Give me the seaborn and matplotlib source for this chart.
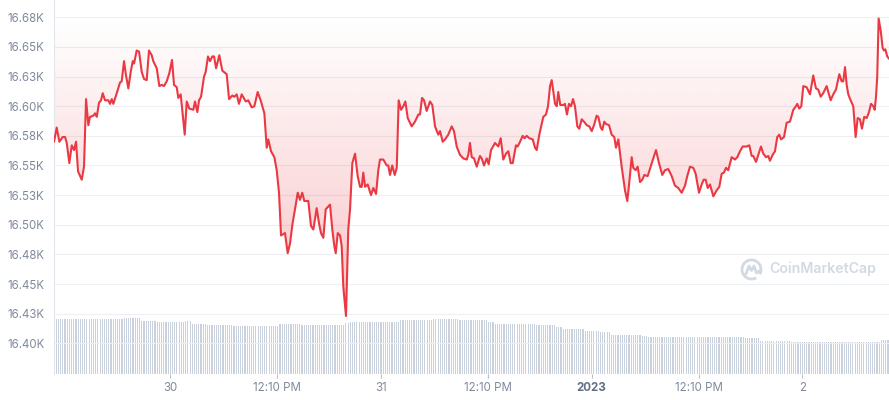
import numpy as np
import matplotlib.pyplot as plt
import matplotlib.colors as mcolors
from matplotlib.patches import Arc
import seaborn as sns

sns.set_theme(style="white")
plt.rcParams['font.family'] = ['Inter', 'DejaVu Sans']

# hours from 30 Dec 00:00
hours = [
    -13.25, -12.94, -12.64, -12.26, -11.99, -11.80, -11.50, -11.23, -10.97, -10.74,
    -10.51, -10.09, -9.83, -9.60, -9.34, -9.15, -8.77, -8.58, -8.38, -8.12,
    -7.89, -7.70, -7.44, -7.06, -6.87, -6.67, -6.49, -6.10, -5.73, -5.54,
    -5.27, -5.05, -4.78, -4.51, -4.28, -4.13, -3.83, -3.56, -3.26, -3.00,
    -2.69, -2.43, -2.12, -1.94, -1.55, -1.25, -0.98, -0.72, -0.41, -0.11,
    0.19, 0.42, 0.73, 0.91, 1.18, 1.41, 1.64, 1.87, 2.16, 2.62,
    2.81, 3.08, 3.27, 3.50, 3.84, 4.03, 4.29, 4.52, 4.78, 4.98,
    5.21, 5.58, 5.92, 6.42, 6.69, 7.06, 7.29, 7.56, 7.82, 8.13,
    8.59, 8.88, 9.27, 9.57, 9.95, 10.33, 10.71, 10.98, 11.16, 11.47,
    11.85, 12.12, 12.38, 12.61, 13.06, 13.37, 13.63, 13.90, 14.20, 14.51,
    14.77, 15.03, 15.26, 15.72, 16.02, 16.29, 16.67, 16.94, 17.16, 17.43,
    17.70, 18.19, 18.45, 18.68, 18.84, 19.07, 19.33, 19.52, 19.70, 20.01,
    20.27, 20.47, 20.73, 21.04, 21.34, 21.61, 21.80, 21.98, 22.18, 22.48,
    22.86, 23.12, 23.43, 23.69, 23.88, 24.26, 24.65, 24.83, 25.02, 25.28,
    25.56, 25.79, 26.01, 26.28, 26.54, 26.77, 27.04, 27.49, 27.87, 28.25,
    28.44, 28.67, 28.90, 29.20, 29.58, 29.84, 30.15, 30.52, 30.72, 31.03,
    31.29, 31.66, 32.05, 32.31, 32.62, 32.99, 33.37, 33.76, 33.94, 34.13,
    34.33, 34.59, 34.90, 35.27, 35.47, 35.73, 36.04, 36.26, 36.53, 36.98,
    37.36, 37.63, 37.93, 38.23, 38.50, 38.77, 39.00, 39.37, 39.57, 39.83,
    40.14, 40.36, 40.59, 40.89, 41.28, 41.54, 41.73, 42.03, 42.48, 42.79,
    43.02, 43.25, 43.44, 43.82, 44.01, 44.19, 44.42, 44.76, 44.95, 45.18,
    45.41, 45.64, 45.87, 46.09, 46.36, 46.58, 46.86, 47.23, 47.43, 47.72,
    48.00, 48.26, 48.56, 48.75, 49.02, 49.20, 49.43, 49.62, 49.97, 50.27,
    50.57, 50.76, 51.03, 51.41, 51.79, 52.05, 52.28, 52.55, 52.73, 53.01,
    53.23, 53.50, 53.76, 53.99, 54.37, 54.75, 55.01, 55.32, 55.66, 56.04,
    56.34, 56.72, 57.11, 57.48, 57.86, 58.25, 58.62, 58.88, 59.19, 59.57,
    59.84, 60.22, 60.52, 60.75, 60.98, 61.21, 61.47, 61.85, 62.23, 62.53,
    62.80, 63.06, 63.29, 63.55, 63.94, 64.32, 64.58, 64.89, 65.19, 65.65,
    65.95, 66.22, 66.40, 66.71, 66.97, 67.28, 67.54, 67.85, 68.11, 68.30,
    68.61, 68.87, 69.13, 69.36, 69.56, 69.90, 70.20, 70.58, 70.96, 71.26,
    71.41, 71.64, 71.87, 72.10, 72.48, 72.86, 73.23, 73.54, 73.80, 74.08,
    74.37, 74.76, 74.94, 75.22, 75.51, 75.82, 76.20, 76.47, 76.65, 76.85,
    77.04, 77.22, 77.49, 77.79, 78.06, 78.29, 78.55, 78.78, 79.04, 79.32,
    79.58, 79.81, 80.07, 80.23, 80.38, 80.52, 80.68, 80.91, 81.14, 81.29,
    81.44, 81.66, 81.86,
]

# BTC price in USD
price = [
    16570, 16582, 16570, 16574, 16574, 16569, 16552, 16567, 16563, 16570,
    16545, 16538, 16549, 16606, 16584, 16591, 16592, 16594, 16591, 16603,
    16605, 16611, 16605, 16605, 16602, 16606, 16602, 16611, 16620, 16621,
    16638, 16626, 16615, 16629, 16638, 16636, 16647, 16646, 16629, 16623,
    16622, 16647, 16643, 16638, 16632, 16617, 16618, 16617, 16621, 16628,
    16639, 16618, 16616, 16607, 16610, 16593, 16576, 16604, 16598, 16597,
    16604, 16595, 16605, 16608, 16625, 16629, 16642, 16638, 16642, 16642,
    16632, 16643, 16630, 16627, 16606, 16609, 16608, 16610, 16602, 16610,
    16604, 16605, 16599, 16600, 16612, 16604, 16594, 16565, 16572, 16562,
    16557, 16546, 16527, 16491, 16493, 16476, 16484, 16500, 16513, 16527,
    16521, 16527, 16520, 16520, 16499, 16496, 16514, 16501, 16493, 16489,
    16513, 16517, 16496, 16482, 16476, 16493, 16491, 16482, 16448, 16423,
    16496, 16513, 16552, 16560, 16541, 16532, 16532, 16544, 16532, 16534,
    16525, 16531, 16526, 16546, 16555, 16555, 16550, 16550, 16542, 16550,
    16542, 16548, 16605, 16597, 16600, 16604, 16590, 16583, 16587, 16593,
    16593, 16607, 16605, 16596, 16604, 16601, 16583, 16576, 16579, 16570,
    16572, 16576, 16583, 16579, 16566, 16559, 16556, 16555, 16559, 16569,
    16557, 16556, 16549, 16558, 16556, 16550, 16556, 16551, 16563, 16569,
    16566, 16573, 16555, 16560, 16562, 16552, 16552, 16567, 16566, 16570,
    16575, 16573, 16575, 16573, 16572, 16565, 16563, 16576, 16591, 16593,
    16600, 16617, 16622, 16602, 16600, 16612, 16601, 16601, 16602, 16593,
    16602, 16600, 16606, 16600, 16583, 16581, 16589, 16586, 16584, 16583,
    16579, 16584, 16592, 16591, 16582, 16580, 16587, 16585, 16584, 16576,
    16574, 16565, 16572, 16549, 16529, 16520, 16536, 16557, 16548, 16546,
    16549, 16536, 16538, 16542, 16541, 16550, 16556, 16563, 16552, 16542,
    16546, 16547, 16541, 16533, 16531, 16527, 16533, 16541, 16549, 16548,
    16543, 16527, 16534, 16538, 16538, 16531, 16534, 16524, 16529, 16532,
    16543, 16544, 16548, 16546, 16557, 16555, 16557, 16562, 16566, 16566,
    16567, 16558, 16558, 16553, 16559, 16566, 16560, 16557, 16558, 16554,
    16559, 16562, 16574, 16576, 16572, 16574, 16586, 16587, 16597, 16600,
    16602, 16598, 16600, 16617, 16616, 16610, 16626, 16615, 16614, 16608,
    16611, 16617, 16612, 16605, 16610, 16614, 16627, 16621, 16621, 16633,
    16618, 16610, 16605, 16600, 16574, 16590, 16589, 16581, 16591, 16590,
    16595, 16602, 16600, 16597, 16608, 16625, 16674, 16664, 16649, 16647,
    16648, 16642, 16640,
]

# 24h volume (billion USD), one bar every 15 minutes
volume = [
    17.5, 17.5, 17.5, 17.5, 17.5, 17.5, 17.5, 17.5, 17.5, 17.5, 17.5, 17.5, 17.5, 17.5, 17.5,
    17.7, 17.7, 17.7, 17.7, 17.7, 17.7, 17.7, 17.7, 17.7, 17.7, 17.7, 17.7, 17.7, 17.7, 17.7, 17.7, 17.7,
    18.0, 18.0, 18.0, 18.0, 18.0, 18.0, 18.0, 18.0,
    17.1, 17.1, 17.1, 17.1, 17.1, 17.1, 17.1,
    16.6, 16.6, 16.6, 16.6, 16.6, 16.6, 16.6, 16.6, 16.6, 16.6, 16.6, 16.6, 16.6,
    17.0, 17.0, 17.0,
    16.1, 16.1, 16.1, 16.1, 16.1, 16.1, 16.1,
    15.7, 15.7, 15.7, 15.7, 15.7, 15.7, 15.7, 15.7, 15.7, 15.7, 15.7, 15.7,
    15.5, 15.5, 15.5, 15.5, 15.5, 15.5, 15.5, 15.5, 15.5, 15.5, 15.5, 15.5,
    15.3, 15.3, 15.3, 15.3, 15.3, 15.3, 15.3, 15.3, 15.3,
    16.0, 16.0, 16.0, 16.0, 16.0, 16.0, 16.0, 16.0, 16.0, 16.0,
    15.7, 15.7, 15.7, 15.7, 15.7, 15.7, 15.7, 15.7, 15.7, 15.7,
    15.7, 15.7, 15.7, 15.7, 15.7, 15.7, 15.7, 15.7, 15.7, 15.7,
    16.2, 16.2,
    16.5, 16.5, 16.5, 16.5, 16.5, 16.5, 16.5, 16.5, 16.5, 16.5, 16.5, 16.5,
    16.5, 16.5, 16.5, 16.5, 16.5, 16.5, 16.5, 16.5, 16.5, 16.5, 16.5,
    17.3, 17.3, 17.3, 17.3, 17.3, 17.3, 17.3, 17.3, 17.3, 17.3, 17.3, 17.3, 17.3, 17.3, 17.3,
    17.6, 17.6, 17.6, 17.6, 17.6, 17.6, 17.6, 17.6, 17.6, 17.6, 17.6, 17.6,
    17.3, 17.3, 17.3, 17.3, 17.3, 17.3, 17.3, 17.3, 17.3, 17.3, 17.3, 17.3, 17.3,
    16.7, 16.7, 16.7,
    15.9, 15.9, 15.9, 15.9, 15.9, 15.9, 15.9, 15.9, 15.9, 15.9,
    15.9, 15.9, 15.9, 15.9, 15.9, 15.9, 15.9, 15.9, 15.9,
    15.7, 15.7, 15.7, 15.7, 15.7, 15.7, 15.7, 15.7, 15.7,
    15.1, 15.1, 15.1,
    14.3, 14.3, 14.3, 14.3, 14.3, 14.3, 14.3, 14.3, 14.3, 14.3,
    13.8, 13.8, 13.8, 13.8, 13.8, 13.8, 13.8,
    13.3, 13.3, 13.3, 13.3, 13.3,
    12.5, 12.5, 12.5, 12.5, 12.5, 12.5, 12.5, 12.5, 12.5, 12.5, 12.5, 12.5, 12.5, 12.5,
    12.2, 12.2, 12.2,
    11.8, 11.8, 11.8, 11.8, 11.8, 11.8, 11.8, 11.8, 11.8, 11.8, 11.8,
    11.8, 11.8, 11.8, 11.8, 11.8, 11.8, 11.8, 11.8, 11.8, 11.8, 11.8,
    11.8, 11.8, 11.8, 11.8, 11.8, 11.8, 11.8, 11.8, 11.8, 11.8, 11.8,
    11.8, 11.8, 11.8, 11.8, 11.8, 11.8, 11.8, 11.8, 11.8, 11.8, 11.8,
    11.4, 11.4, 11.4, 11.4, 11.4, 11.4, 11.4,
    10.7, 10.7, 10.7, 10.7, 10.7, 10.7, 10.7, 10.7, 10.7, 10.7, 10.7, 10.7, 10.7, 10.7,
    10.2, 10.2, 10.2, 10.2, 10.2, 10.2, 10.2, 10.2, 10.2, 10.2, 10.2,
    10.2, 10.2, 10.2, 10.2, 10.2, 10.2, 10.2, 10.2, 10.2, 10.2,
    10.2, 10.2, 10.2, 10.2, 10.2, 10.2, 10.2, 10.2, 10.2, 10.2,
    10.2, 10.2, 10.2, 10.2, 10.2, 10.2, 10.2, 10.2, 10.2, 10.2,
    10.8, 10.8, 10.8, 10.8,
]
vol_hours = np.arange(-13.25, 81.8, 0.25)

y_ticks = [16400, 16425, 16450, 16475, 16500, 16525, 16550, 16575, 16600, 16625, 16650, 16675]
y_labels = ["16.40K", "16.43K", "16.45K", "16.48K", "16.50K", "16.53K",
            "16.55K", "16.58K", "16.60K", "16.63K", "16.65K", "16.68K"]
x_ticks = [0, 12.17, 24, 36.17, 48, 60.17, 72]
x_labels = ["30", "12:10 PM", "31", "12:10 PM", "2023", "12:10 PM", "2"]

RED = "#ea3943"
GREY_TXT = "#808a9d"
MARK = "#d3d9e3"

fig = plt.figure(figsize=(8.89, 4), dpi=100, facecolor="white")
ax = fig.add_axes([54 / 889, 26 / 400, 835 / 889, 374 / 400])

# volume bars on a hidden twin axis, drawn behind the price axis
ax2 = ax.twinx()
ax2.bar(vol_hours, volume, width=0.13, color="#c9d1dd", linewidth=0)
ax2.set_ylim(0, 119.7)
ax2.set_yticks([])
for s in ax2.spines.values():
    s.set_visible(False)
ax.set_zorder(ax2.get_zorder() + 1)
ax.patch.set_visible(False)

# gradient fill between price line and its top
top = max(price)
fill = ax.fill_between(hours, price, top, color="none", linewidth=0)
clip = fill.get_paths()[0]
grad = np.zeros((256, 1, 4))
grad[..., :3] = mcolors.to_rgb(RED)
grad[:, 0, 3] = np.linspace(0.30, 0.0, 256)
im = ax.imshow(grad, aspect="auto", origin="lower",
               extent=[hours[0], hours[-1], min(price), top], zorder=1)
im.set_clip_path(clip, transform=ax.transData)

sns.lineplot(x=hours, y=price, ax=ax, color=RED, linewidth=1.5, zorder=3)

ax.set_xlim(-13.25, 81.86)
ax.set_ylim(16374.1, 16689.6)
ax.set_yticks(y_ticks)
ax.set_yticklabels(y_labels)
ax.set_xticks(x_ticks)
ax.set_xticklabels(x_labels)
ax.set_xlabel("")
ax.set_ylabel("")

ax.yaxis.grid(True, color="#eceff3", linewidth=0.8)
ax.xaxis.grid(False)
ax.set_axisbelow(True)
for side in ["top", "right", "bottom"]:
    ax.spines[side].set_visible(False)
ax.spines["left"].set_color("#e3e7ed")
ax.spines["left"].set_linewidth(0.8)

ax.tick_params(axis="y", length=0, pad=7, labelsize=8.3, labelcolor=GREY_TXT)
ax.tick_params(axis="x", length=3, width=0.8, color="#b8c0cc", pad=3,
               labelsize=8.3, labelcolor=GREY_TXT, bottom=True)
lbl = ax.get_xticklabels()[4]
lbl.set_fontweight("bold")
lbl.set_color("#616e85")

# watermark
fig.text(769 / 889, 1 - 269 / 400, "CoinMarketCap", ha="left", va="center",
         fontsize=10.2, fontweight="semibold", color=MARK)
logo = fig.add_axes([740 / 889, 1 - 281 / 400, 23 / 889, 23 / 400])
logo.set_xlim(-1.15, 1.15)
logo.set_ylim(-1.15, 1.15)
logo.axis("off")
logo.add_patch(Arc((0, 0), 1.9, 1.9, theta1=-30, theta2=300, color=MARK, lw=2))
logo.plot([-0.55, -0.25, 0.0, 0.25, 0.5, 0.85], [-0.45, 0.35, -0.1, 0.35, -0.35, -0.1],
          color=MARK, lw=2, solid_capstyle="round", solid_joinstyle="round")

fig.savefig("out.png", dpi=100, facecolor="white")
